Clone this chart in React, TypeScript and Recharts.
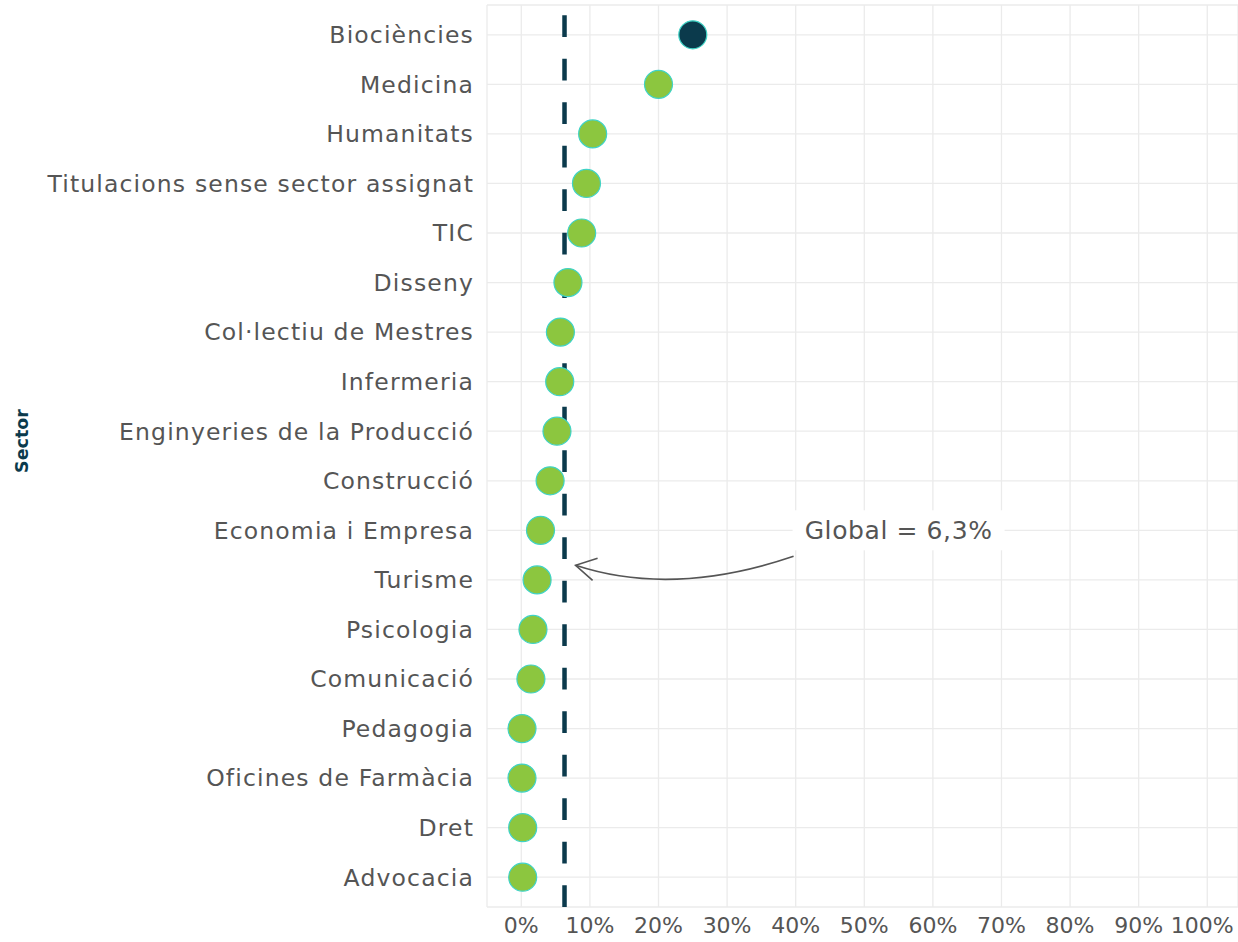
import React from "react";
import {
  ScatterChart,
  Scatter,
  XAxis,
  YAxis,
  CartesianGrid,
  ReferenceLine,
  ReferenceDot,
  Cell,
} from "recharts";

const sectors = [
  "Biociències",
  "Medicina",
  "Humanitats",
  "Titulacions sense sector assignat",
  "TIC",
  "Disseny",
  "Col·lectiu de Mestres",
  "Infermeria",
  "Enginyeries de la Producció",
  "Construcció",
  "Economia i Empresa",
  "Turisme",
  "Psicologia",
  "Comunicació",
  "Pedagogia",
  "Oficines de Farmàcia",
  "Dret",
  "Advocacia",
];

const rates = [25.0, 20.0, 10.4, 9.5, 8.8, 6.8, 5.7, 5.6, 5.2, 4.2, 2.8, 2.3, 1.7, 1.4, 0.1, 0.1, 0.2, 0.2];

const highlighted = ["Biociències"];

const globalRate = 6.3;
const globalLabel = "Global = 6,3%";
const xTicks = [0, 10, 20, 30, 40, 50, 60, 70, 80, 90, 100];

const data = sectors.map((s, i) => ({ sector: s, rate: rates[i] }));

const FONT = "'DejaVu Sans', sans-serif";
const TEXT = "#555555";
const DARK = "#0b3a4c";
const GREEN = "#8cc63f";
const TEAL = "#3fd3c6";

const Dot = (props: any) => {
  const { cx, cy, payload } = props;
  const hi = highlighted.includes(payload.sector);
  return (
    <circle
      cx={cx}
      cy={cy}
      r={14}
      fill={hi ? DARK : GREEN}
      stroke={TEAL}
      strokeWidth={1.2}
    />
  );
};

const DashedLine = (props: any) => {
  const { x1, y1, x2, y2 } = props;
  const yb = Math.max(y1, y2);
  const yt = Math.min(y1, y2);
  return (
    <line
      x1={x1}
      x2={x2}
      y1={yb}
      y2={yt}
      stroke={DARK}
      strokeWidth={4.5}
      strokeDasharray="21.75 21.75"
    />
  );
};

const Annotation = (props: any) => {
  const { cx, cy } = props;
  const sx = cx - 105;
  const sy = cy + 26;
  const ex = cx - 323;
  const ey = cy + 35;
  return (
    <g>
      <rect x={cx - 106} y={cy - 20} width={212} height={40} fill="#ffffff" />
      <text
        x={cx}
        y={cy}
        textAnchor="middle"
        dominantBaseline="central"
        fontFamily={FONT}
        fontSize={25}
        letterSpacing={0.6}
        fill={TEXT}
      >
        {globalLabel}
      </text>
      <path
        d={`M ${sx} ${sy} Q ${cx - 226} ${cy + 67} ${ex} ${ey}`}
        fill="none"
        stroke={TEXT}
        strokeWidth={1.6}
      />
      <path
        d={`M ${ex + 22} ${ey - 7} L ${ex} ${ey} L ${ex + 17} ${ey + 15}`}
        fill="none"
        stroke={TEXT}
        strokeWidth={1.6}
      />
    </g>
  );
};

const XTick = (props: any) => {
  const { x, y, payload } = props;
  const label = `${payload.value}%`;
  const shift = payload.value === 100 ? -5 : 0;
  return (
    <text
      x={x + shift}
      y={y}
      dy="0.71em"
      textAnchor="middle"
      fontFamily={FONT}
      fontSize={22}
      fill={TEXT}
    >
      {label}
    </text>
  );
};

export default function App() {
  return (
    <div style={{ position: "absolute", left: 0, top: 0, width: 1238, height: 942, background: "#fff" }}>
      <ScatterChart
        width={1238}
        height={942}
        margin={{ top: 5, right: 0, bottom: 0, left: 0 }}
      >
        <CartesianGrid stroke="#ebebeb" strokeWidth={1.3} />
        <XAxis
          type="number"
          dataKey="rate"
          domain={[-5, 104.48]}
          ticks={xTicks}
          allowDataOverflow
          tickLine={false}
          axisLine={false}
          height={35}
          tickMargin={4}
          tick={XTick}
        />
        <YAxis
          type="category"
          dataKey="sector"
          reversed
          width={487}
          tickLine={false}
          axisLine={false}
          tickMargin={7}
          padding={{ top: 5, bottom: 5 }}
          interval={0}
          tick={{ fill: TEXT, fontSize: 23.5, fontFamily: FONT, letterSpacing: 1.15 }}
          label={{
            content: () => (
              <text
                x={22}
                y={441}
                transform="rotate(-90 22 441)"
                textAnchor="middle"
                dominantBaseline="central"
                fontFamily={FONT}
                fontWeight="bold"
                fontSize={17.5}
                fill={DARK}
              >
                Sector
              </text>
            ),
          }}
        />
        <ReferenceLine x={globalRate} shape={DashedLine} />
        <Scatter data={data} isAnimationActive={false} shape={Dot}>
          {data.map((d) => (
            <Cell key={d.sector} />
          ))}
        </Scatter>
        <ReferenceDot x={55} y="Economia i Empresa" r={0} shape={Annotation} />
      </ScatterChart>
    </div>
  );
}
